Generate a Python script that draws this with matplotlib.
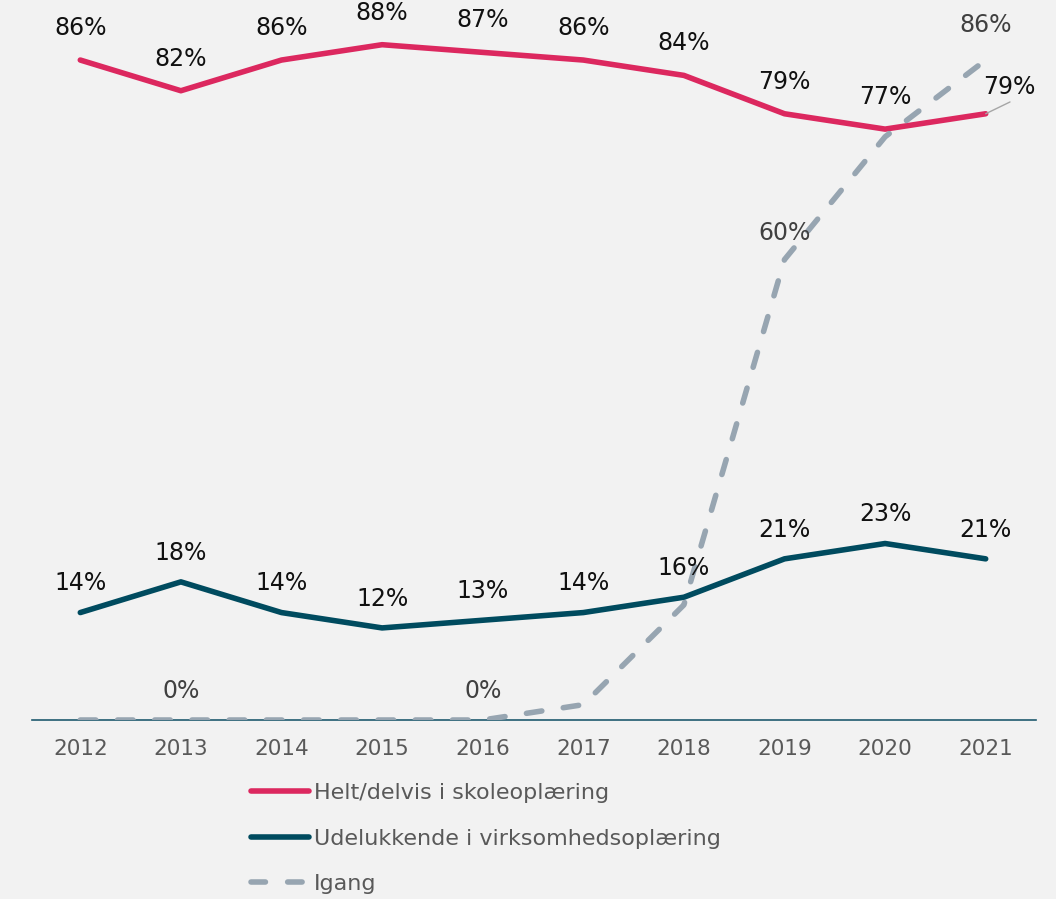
import numpy as np
import matplotlib
matplotlib.use('Agg')
import matplotlib.pyplot as plt
from matplotlib.lines import Line2D

# data
years = ['2012', '2013', '2014', '2015', '2016', '2017', '2018', '2019', '2020', '2021']
skole = [86, 82, 86, 88, 87, 86, 84, 79, 77, 79]
virksomhed = [14, 18, 14, 12, 13, 14, 16, 21, 23, 21]
igang = [0, 0, 0, 0, 0, 2, 15, 60, 76, 86]
igang_labelled = [1, 4, 7, 9]

names = ['Helt/delvis i skoleoplæring', 'Udelukkende i virksomhedsoplæring', 'Igang']

PINK = '#DC285F'
TEAL = '#004B5F'
GREY = '#97A5B1'
BG = '#F2F2F2'
LW = 4

plt.rcParams['font.family'] = ['DejaVu Sans']

fig = plt.figure(figsize=(10.56, 8.99), dpi=100, facecolor=BG)
ax = fig.add_axes([32 / 1056, 1 - 720 / 899, 1004 / 1056, (720 - 14) / 899])
ax.set_facecolor(BG)

x = np.arange(len(years))
ax.plot(x, skole, color=PINK, lw=LW, solid_capstyle='round', solid_joinstyle='round')
ax.plot(x, virksomhed, color=TEAL, lw=LW, solid_capstyle='round', solid_joinstyle='round')
ax.plot(x, igang, color=GREY, lw=LW, linestyle=(0, (2.8, 3.9)),
        dash_capstyle='round', dash_joinstyle='round')

ax.set_xlim(-0.48, 9.5)
ax.set_ylim(0, 92)

# labels
for i, v in enumerate(skole):
    if i == 9:
        continue
    ax.annotate(f'{v}%', (i, v), xytext=(0, 23), textcoords='offset points',
                ha='center', va='center', fontsize=17, color='#111111')
# last label moved aside with a leader line
ax.annotate(f'{skole[9]}%', (9, skole[9]), xytext=(17, 19), textcoords='offset points',
            ha='center', va='center', fontsize=17, color='#111111')
ax.annotate('', (9, skole[9]), xytext=(17.5, 8.5), textcoords='offset points',
            arrowprops=dict(arrowstyle='-', color='#A6A6A6', lw=1, shrinkA=0, shrinkB=0))
for i, v in enumerate(virksomhed):
    ax.annotate(f'{v}%', (i, v), xytext=(0, 21), textcoords='offset points',
                ha='center', va='center', fontsize=17, color='#111111')
for i in igang_labelled:
    dy = 21
    if i == 7:
        dy = 19
    if i == 9:
        dy = 25
    ax.annotate(f'{igang[i]}%', (i, igang[i]), xytext=(0, dy), textcoords='offset points',
                ha='center', va='center', fontsize=17, color='#404040')

ax.set_xticks(x)
ax.set_xticklabels(years, fontsize=15.5, color='#595959')
ax.tick_params(axis='x', length=0, pad=14)
ax.set_yticks([])
for s in ['left', 'right', 'top']:
    ax.spines[s].set_visible(False)
ax.spines['bottom'].set_color('#1F5A6E')
ax.spines['bottom'].set_linewidth(1.2)
ax.spines['bottom'].set_zorder(0)

handles = [Line2D([], [], color=PINK, lw=LW, solid_capstyle='round'),
           Line2D([], [], color=TEAL, lw=LW, solid_capstyle='round'),
           Line2D([], [], color=GREY, lw=LW, linestyle=(0, (2.6, 4.0)), dash_capstyle='round')]
fig.legend(handles, names, loc='upper left', bbox_to_anchor=(251 / 1056, 1 - 783 / 899),
           frameon=False, fontsize=16, labelcolor='#595959', handlelength=2.6,
           handletextpad=0.25, labelspacing=1.15, borderpad=0, borderaxespad=0)

fig.savefig('out.png', dpi=100, facecolor=BG)
